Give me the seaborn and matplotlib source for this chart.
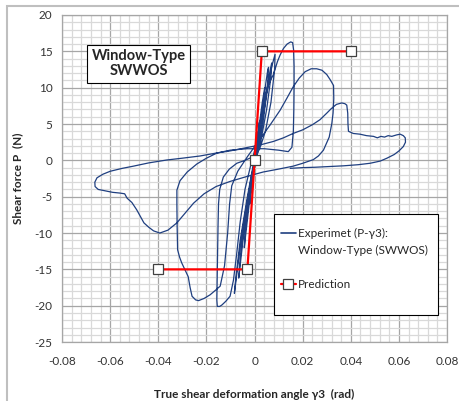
import seaborn as sns
import pandas as pd
import matplotlib.pyplot as plt
from matplotlib.ticker import MultipleLocator, FuncFormatter
from matplotlib.lines import Line2D
from matplotlib.patches import Rectangle

exp_gamma = [
    0.0, 0.0008, 0.0016, 0.0020, 0.0016, 0.0006,
    -0.0006, -0.0014, -0.0020, -0.0016, -0.0006,
    0.0006, 0.0018, 0.0032, 0.0042, 0.0038, 0.0022, 0.0005,
    -0.0012, -0.0026, -0.0038, -0.0043, -0.0038, -0.0020, 0.0,
    0.0014, 0.0030, 0.0046, 0.0055, 0.0058, 0.0054, 0.0036, 0.0012,
    -0.0010, -0.0030, -0.0050, -0.0062, -0.0066, -0.0060, -0.0040, -0.0015,
    0.0010, 0.0030, 0.0050, 0.0064, 0.0071, 0.0068, 0.0050, 0.0025, 0.0,
    -0.0025, -0.0050, -0.0068, -0.0080, -0.0084, -0.0079, -0.0060, -0.0030, -0.0005,
    0.0015, 0.0035, 0.0055, 0.0072, 0.0085, 0.0083, 0.0068, 0.0045, 0.0020, 0.0,
    -0.0040, -0.0074, -0.0105, -0.0130, -0.0145, -0.0150,
    -0.0152, -0.0154, -0.0156, -0.0157, -0.0155, -0.0145, -0.0136, -0.0120,
    -0.0102, -0.0088, -0.0075, -0.0060, -0.0040, -0.0015,
    0.0005, 0.0023, 0.0044, 0.0060, 0.0078, 0.0095, 0.0106, 0.0120, 0.0135,
    0.0150, 0.0158, 0.0162, 0.0164, 0.0164, 0.0163, 0.0161, 0.0155, 0.0140,
    0.0100, 0.0040, -0.0030, -0.0102, -0.0157, -0.0200, -0.0240, -0.0280,
    -0.0310, -0.0323,
    -0.0323, -0.0322, -0.0320, -0.0312, -0.0303, -0.0290, -0.0276, -0.0268,
    -0.0260, -0.0245, -0.0233, -0.0210, -0.0185, -0.0160, -0.0143,
    -0.0125, -0.0112, -0.0104, -0.0095, -0.0070, -0.0030, 0.0020, 0.0065,
    0.0106, 0.0135, 0.0160, 0.0185, 0.0210, 0.0235, 0.0258, 0.0280, 0.0300,
    0.0314, 0.0328, 0.0329, 0.0326, 0.0321, 0.0310, 0.0286, 0.0265, 0.0244,
    0.0200, 0.0160, 0.0100, 0.0036, -0.0030, -0.0102, -0.0160, -0.0210,
    -0.0254, -0.0290, -0.0323, -0.0360, -0.0394, -0.0420, -0.0440, -0.0460,
    -0.0475, -0.0490, -0.0510, -0.0530, -0.0540, -0.0560, -0.0590, -0.0620,
    -0.0650, -0.0663, -0.0664, -0.0655, -0.0630, -0.0600, -0.0550, -0.0504,
    -0.0440, -0.0365, -0.0300, -0.0227, -0.0160, -0.0102, -0.0040, 0.0020,
    0.0078, 0.0120, 0.0160,
    0.0200, 0.0240, 0.0272, 0.0300, 0.0318, 0.0340, 0.0362, 0.0375, 0.0383,
    0.0387, 0.0388, 0.0390, 0.0410, 0.0438, 0.0465, 0.0494, 0.0510, 0.0525,
    0.0540, 0.0555, 0.0570, 0.0590, 0.0605, 0.0618, 0.0626, 0.0627, 0.0618,
    0.0600, 0.0580, 0.0550, 0.0522, 0.0480, 0.0430, 0.0370, 0.0314, 0.0250,
    0.0200, 0.0148,
]
exp_force = [
    0.0, 2.0, 4.2, 5.3, 3.8, 1.2,
    -1.5, -4.0, -6.0, -4.3, -1.5,
    1.3, 4.5, 8.0, 10.0, 8.0, 4.0, 0.5,
    -3.0, -7.0, -10.5, -12.0, -9.5, -4.5, -0.5,
    2.5, 6.5, 10.5, 12.5, 12.8, 10.5, 5.5, 1.0,
    -2.5, -6.5, -11.5, -15.0, -16.2, -13.5, -8.0, -2.5,
    1.5, 5.5, 9.5, 12.3, 13.4, 11.5, 7.0, 2.5, -0.5,
    -4.5, -9.5, -14.0, -17.3, -18.3, -16.5, -11.0, -5.0, -0.5,
    2.5, 6.0, 10.0, 13.0, 14.6, 12.5, 8.0, 4.0, 1.5, 0.6,
    0.0, -0.4, -1.2, -2.3, -4.0, -6.0,
    -9.0, -13.0, -17.0, -19.2, -20.1, -20.1, -19.9, -19.4,
    -18.7, -16.5, -13.0, -8.5, -4.0, -0.5,
    2.0, 5.3, 9.0, 10.6, 11.8, 13.6, 14.5, 15.4, 16.0,
    16.3, 16.2, 15.2, 13.0, 10.0, 7.0, 4.0, 1.8, 1.2,
    1.4, 1.6, 1.6, 1.4, 1.0, 0.3, -0.5, -1.6,
    -2.8, -4.1,
    -6.0, -9.0, -12.3, -13.3, -14.1, -15.0, -16.0, -17.5,
    -18.7, -19.2, -19.3, -19.0, -18.5, -17.8, -17.3,
    -14.5, -10.0, -6.0, -3.5, -1.5, 0.5, 2.8, 4.9,
    6.9, 8.6, 10.1, 11.3, 12.2, 12.6, 12.6, 12.4, 11.8,
    11.1, 10.3, 8.5, 6.5, 5.1, 3.2, 1.4, 0.6, 0.1,
    -0.4, -0.8, -1.2, -1.6, -2.2, -2.9, -3.6, -4.6,
    -5.9, -7.3, -8.6, -9.6, -10.0, -9.7, -9.2, -8.6,
    -7.7, -6.8, -5.8, -5.2, -4.6, -4.5, -4.4, -4.2,
    -4.0, -3.6, -3.0, -2.4, -1.9, -1.5, -1.1, -0.8,
    -0.35, 0.05, 0.3, 0.6, 1.0, 1.3, 1.7, 2.1,
    2.6, 3.1, 3.7,
    4.2, 4.9, 5.6, 6.5, 7.1, 7.7, 7.9, 7.8, 7.6,
    6.5, 5.0, 4.0, 3.7, 3.6, 3.4, 3.3, 3.1, 3.3,
    3.2, 3.4, 3.3, 3.5, 3.6, 3.4, 3.1, 2.5, 1.9,
    1.3, 0.8, 0.3, -0.1, -0.4, -0.6, -0.75, -0.85, -0.95,
    -1.0, -1.1,
]

# prediction
pred_gamma = [-0.04, -0.003, 0.0, 0.003, 0.04]
pred_force = [-15, -15, 0, 15, 15]

legend_rows = ['Experimet (P-\u03b33):', 'Window-Type (SWWOS)', '', 'Prediction']

sns.set_theme(style="white")
plt.rcParams['font.family'] = ['Lato', 'DejaVu Sans']

fig, ax = plt.subplots(figsize=(4.6, 4.01), dpi=100)
fig.subplots_adjust(left=0.135, right=0.972, top=0.9626, bottom=0.147)

# chart area border
fig.patches.append(Rectangle((7 / 460, -0.01), 1.0, 1 - 6 / 401 + 0.01,
                             transform=fig.transFigure, fill=False,
                             ec='#BFBFBF', lw=1.5))

df_exp = pd.DataFrame({'gamma': exp_gamma, 'P': exp_force})
df_pred = pd.DataFrame({'gamma': pred_gamma, 'P': pred_force})

sns.lineplot(x='gamma', y='P', data=df_exp, sort=False, estimator=None,
             ax=ax, color='#1F3F80', lw=0.9)
sns.lineplot(x='gamma', y='P', data=df_pred, sort=False, estimator=None,
             ax=ax, color='#FF0000', lw=1.6, marker='s', markersize=7,
             markerfacecolor='white', markeredgecolor='#404040',
             markeredgewidth=0.9, zorder=5)

ax.set_xlim(-0.08, 0.08)
ax.set_ylim(-25, 20)
ax.xaxis.set_major_locator(MultipleLocator(0.02))
ax.xaxis.set_minor_locator(MultipleLocator(0.004))
ax.yaxis.set_major_locator(MultipleLocator(5))
ax.yaxis.set_minor_locator(MultipleLocator(1))
ax.xaxis.set_major_formatter(FuncFormatter(lambda v, p: '0' if abs(v) < 1e-9 else f'{v:.2f}'))
ax.yaxis.set_major_formatter(FuncFormatter(lambda v, p: f'{v:.0f}'))
ax.grid(which='major', color='#A6A6A6', lw=0.9)
ax.grid(which='minor', color='#D9D9D9', lw=0.9)
ax.set_axisbelow(True)
for s in ax.spines.values():
    s.set_color('#A6A6A6')
    s.set_linewidth(0.9)
ax.tick_params(which='both', length=0, labelsize=8.5, colors='#333333')
ax.tick_params(axis='x', pad=10)
ax.tick_params(axis='y', pad=7)

ax.set_xlabel('True shear deformation angle \u03b33  (rad)', fontsize=8.5,
              fontweight='bold', labelpad=16)
ax.set_ylabel('Shear force P  (N)', fontsize=8.5, fontweight='bold', labelpad=8)

ax.text(-0.0482, 13.3, 'Window-Type\nSWWOS', ha='center', va='center',
        fontsize=10.5, fontweight='bold', linespacing=1.1,
        bbox=dict(boxstyle='square,pad=0.3', fc='white', ec='black', lw=0.8))

# legend
ax.add_patch(Rectangle((0.551, 0.0826), 0.426, 0.308, transform=ax.transAxes,
                       fc='white', ec='black', lw=0.8, zorder=6))
exp_handle = Line2D([], [], color='#1F3F80', lw=1.2)
blank = Line2D([], [], color='none')
pred_handle = Line2D([], [], color='#FF0000', lw=1.6, marker='s', markersize=7,
                     markerfacecolor='white', markeredgecolor='#404040',
                     markeredgewidth=0.9)
leg = ax.legend([exp_handle, blank, blank, pred_handle], legend_rows,
                loc='upper left', bbox_to_anchor=(0.555, 0.363), frameon=False,
                fontsize=8.5, handlelength=1.35, handletextpad=0.15,
                labelspacing=0.5, borderaxespad=0)
leg.set_zorder(7)

plt.savefig('out.png', dpi=100)
